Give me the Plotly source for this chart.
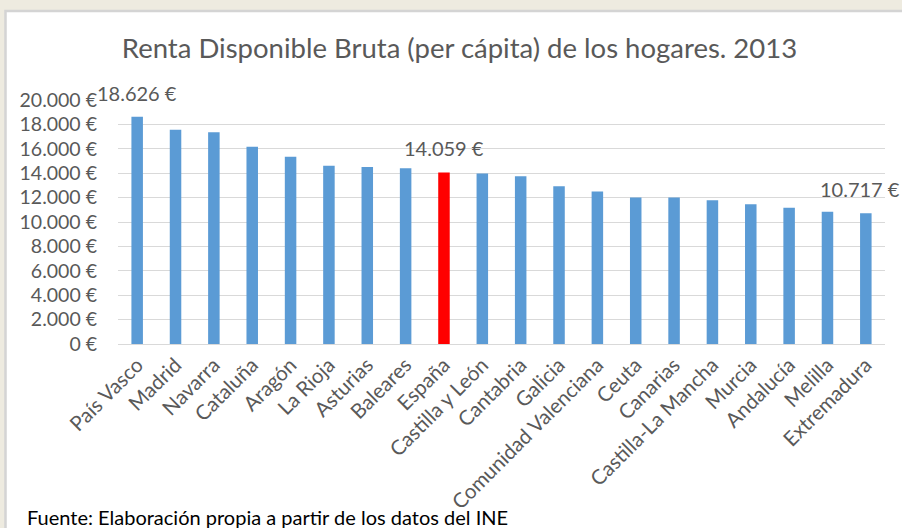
import plotly.graph_objects as go

categories = ["País Vasco", "Madrid", "Navarra", "Cataluña", "Aragón", "La Rioja",
              "Asturias", "Baleares", "España", "Castilla y León", "Cantabria", "Galicia",
              "Comunidad Valenciana", "Ceuta", "Canarias", "Castilla-La Mancha", "Murcia",
              "Andalucía", "Melilla", "Extremadura"]
values = [18626, 17560, 17350, 16170, 15350, 14610, 14510, 14400, 14059, 13970,
          13750, 12930, 12490, 12000, 12000, 11790, 11460, 11160, 10830, 10717]
labelled = ["País Vasco", "España", "Extremadura"]
label_texts = ["18.626 €", "14.059 €", "10.717 €"]
tick_vals = [0, 2000, 4000, 6000, 8000, 10000, 12000, 14000, 16000, 18000, 20000]
tick_text = ["0 €", "2.000 €", "4.000 €", "6.000 €", "8.000 €", "10.000 €", "12.000 €",
             "14.000 €", "16.000 €", "18.000 €", "20.000 €"]

title = "Renta Disponible Bruta (per cápita) de los hogares. 2013"
source = "Fuente: Elaboración propia a partir de los datos del INE"

FONT = "Lato"
GRAY = "#595959"
BEIGE = "#EEEBE0"
colors = ["#FF0000" if c == "España" else "#5B9BD5" for c in categories]

W, H = 902, 528
L, R, T, B = 118, 17, 100, 184
pw, ph = W - L - R, H - T - B


def px_x(p):
    return (p - L) / pw


def px_y(p):
    return (H - B - p) / ph


fig = go.Figure(go.Bar(x=categories, y=values, marker=dict(color=colors, line=dict(width=0)),
                       width=0.3, hoverinfo="x+y"))

annotations = []
for c, t in zip(labelled, label_texts):
    v = values[categories.index(c)]
    annotations.append(dict(x=c, y=v, xref="x", yref="y", text=t, showarrow=False,
                            yanchor="middle", yshift=24,
                            xshift=-6 if c == "Extremadura" else 0,
                            font=dict(family=FONT, size=20, color=GRAY)))
annotations.append(dict(x=px_x(25), y=px_y(517), xref="paper", yref="paper", text=source,
                        showarrow=False, xanchor="left", yanchor="middle",
                        font=dict(family=FONT, size=20, color="#000000")))

fig.update_layout(
    width=W, height=H,
    margin=dict(l=L, r=R, t=T, b=B, pad=0, autoexpand=False),
    paper_bgcolor=BEIGE,
    plot_bgcolor="rgba(0,0,0,0)",
    showlegend=False,
    title=dict(text=title, x=459.5 / W, xanchor="center", y=1 - 48 / H, yanchor="middle",
               xref="container", yref="container", automargin=False,
               font=dict(family=FONT, size=27.5, color=GRAY)),
    annotations=annotations,
    shapes=[dict(type="rect", xref="paper", yref="paper", layer="below",
                 x0=px_x(5.5), x1=px_x(960), y0=px_y(600), y1=px_y(11),
                 fillcolor="#FFFFFF", line=dict(color="#D4D4D4", width=2.5))],
    xaxis=dict(range=[-0.5, len(categories) - 0.5], tickangle=-45,
               tickfont=dict(family=FONT, size=20.5, color=GRAY),
               showgrid=False, showline=True, linecolor="#D9D9D9", linewidth=1,
               ticks="", fixedrange=True, automargin=False),
    yaxis=dict(range=[0, 20000], tickvals=tick_vals, ticktext=tick_text,
               tickfont=dict(family=FONT, size=19.5, color=GRAY),
               showgrid=True, gridcolor="#D9D9D9", gridwidth=1, zeroline=False,
               showline=False, ticks="", ticklabelstandoff=20, automargin=False),
)

fig.write_html("out.html", config={"displayModeBar": False},
               post_script="document.body.style.margin='0';"
                           "document.body.style.background='" + BEIGE + "';")
